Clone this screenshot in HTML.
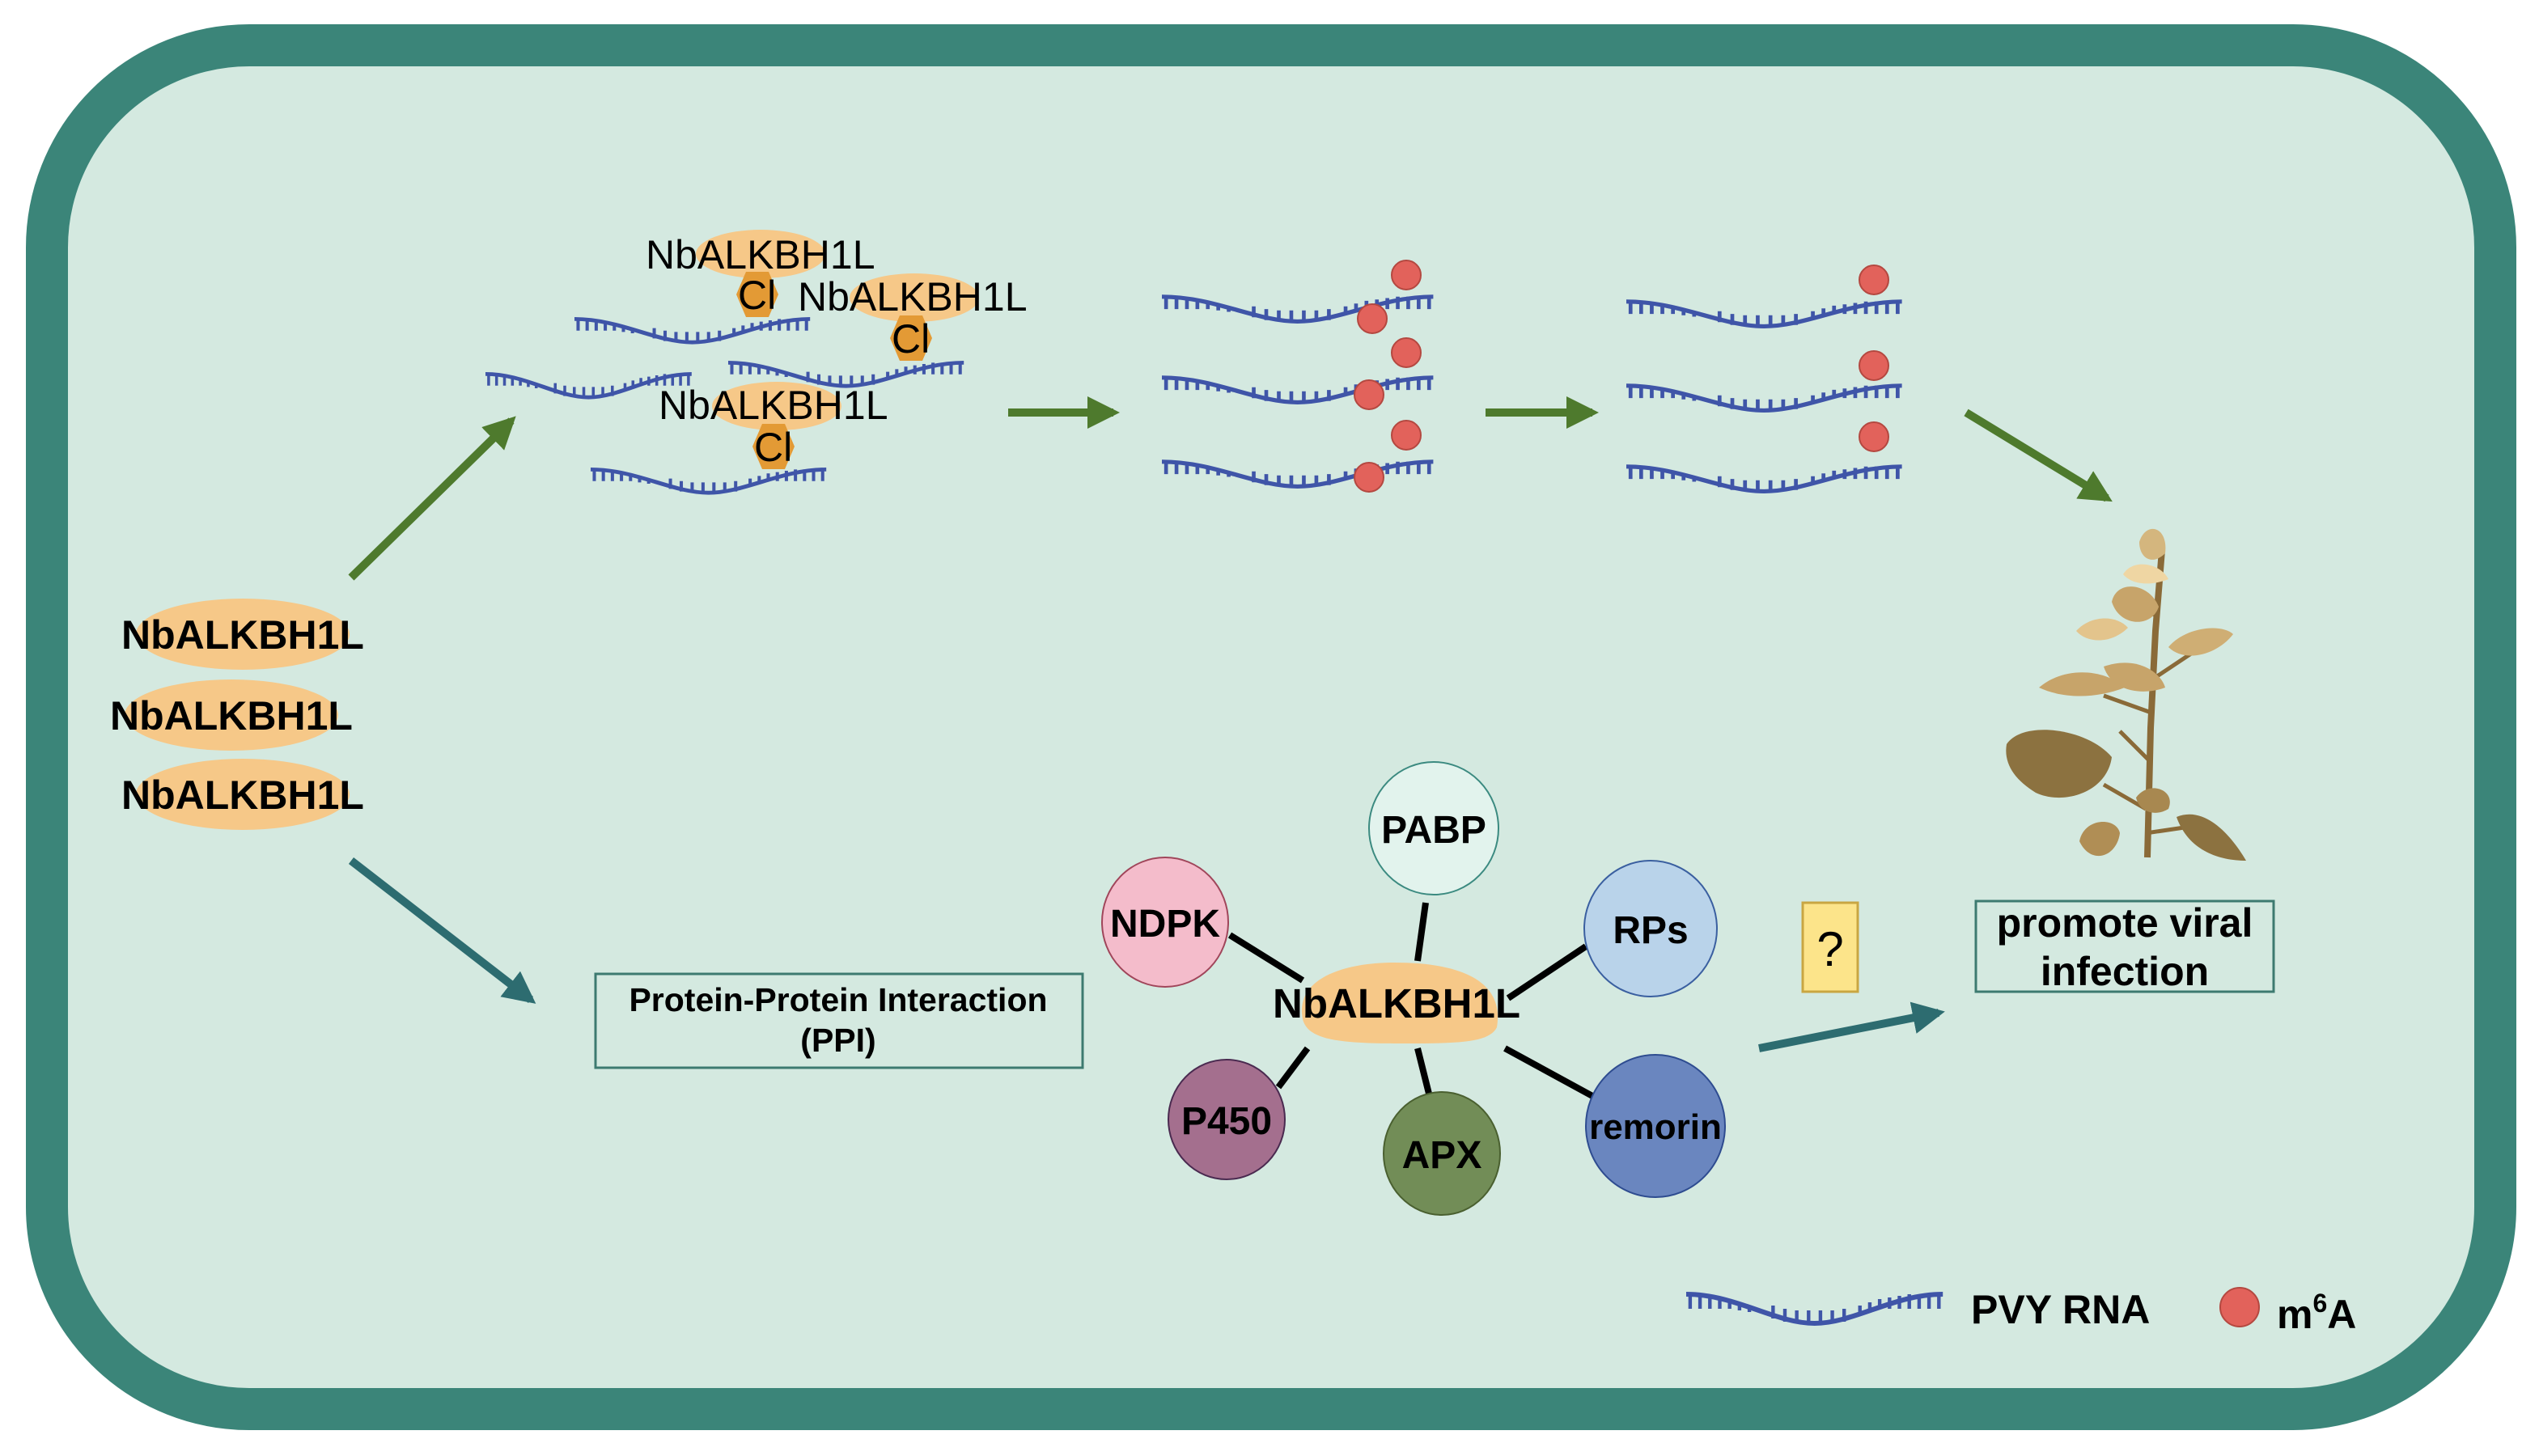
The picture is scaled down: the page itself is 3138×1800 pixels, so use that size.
<!DOCTYPE html>
<html><head><meta charset="utf-8"><style>
html,body{margin:0;padding:0;background:#fff}
svg{display:block}
text{font-family:"Liberation Sans",sans-serif}
</style></head><body>
<svg width="3138" height="1800" viewBox="0 0 1569 900" xmlns="http://www.w3.org/2000/svg">
<defs>
<g id="rna">
<path d="M0,4 C25,4 45,22 65,22 C85,22 105,4 130,4" fill="none" stroke="#3f55a8" stroke-width="3"/>
<path d="M2,4v9M7,4v9M12,5v8M17,6v7M22,7v6M27,9v5M32,11v4M88,11v4M93,9v5M98,7v6M103,6v7M108,5v8M113,4v9M118,4v9M123,4v9M128,4v9M44,19v-8M50,21v-8M56,22v-8M62,22v-8M68,22v-8M74,22v-8M80,21v-8" stroke="#3f55a8" stroke-width="1.8"/>
</g>
<marker id="ag" viewBox="0 0 10 10" refX="8" refY="5" markerWidth="4" markerHeight="4" orient="auto"><path d="M0,0L10,5L0,10z" fill="#4e7a2d"/></marker>
<marker id="at" viewBox="0 0 10 10" refX="8" refY="5" markerWidth="4" markerHeight="4" orient="auto"><path d="M0,0L10,5L0,10z" fill="#2d6c70"/></marker>
</defs>
<rect x="29" y="28" width="1513" height="843" rx="125" fill="#d4e9e0" stroke="#3b8579" stroke-width="26"/>

<!-- left stack -->
<g font-weight="bold" font-size="25" text-anchor="middle">
<ellipse cx="150" cy="392" rx="66" ry="22" fill="#f6c888"/>
<ellipse cx="143" cy="442" rx="66" ry="22" fill="#f6c888"/>
<ellipse cx="150" cy="491" rx="66" ry="22" fill="#f6c888"/>
<text x="150" y="401">NbALKBH1L</text>
<text x="143" y="451">NbALKBH1L</text>
<text x="150" y="500">NbALKBH1L</text>
</g>
<line x1="217" y1="357" x2="316" y2="260" stroke="#4e7a2d" stroke-width="5" marker-end="url(#ag)"/>
<line x1="217" y1="532" x2="328" y2="618" stroke="#2d6c70" stroke-width="5" marker-end="url(#at)"/>

<!-- top group -->
<use href="#rna" transform="translate(300,228) scale(0.98,0.8)"/>
<use href="#rna" transform="translate(355,194) scale(1.12,0.8)"/>
<use href="#rna" transform="translate(450,221) scale(1.12,0.8)"/>
<use href="#rna" transform="translate(365,287) scale(1.12,0.8)"/>
<g font-size="25">
<ellipse cx="470" cy="157" rx="40" ry="15" fill="#f6c888"/>
<ellipse cx="565" cy="184" rx="40" ry="15" fill="#f6c888"/>
<ellipse cx="480" cy="251" rx="40" ry="15" fill="#f6c888"/>
<polygon points="455,182 461,168 475,168 481,182 475,196 461,196" fill="#e39a35"/>
<polygon points="550,209 556,195 570,195 576,209 570,223 556,223" fill="#e39a35"/>
<polygon points="465,276 471,262 485,262 491,276 485,290 471,290" fill="#e39a35"/>
<text x="399" y="166">NbALKBH1L</text>
<text x="493" y="192">NbALKBH1L</text>
<text x="407" y="259">NbALKBH1L</text>
<text x="456" y="191">Cl</text>
<text x="551" y="218">Cl</text>
<text x="466" y="285">Cl</text>
</g>
<line x1="623" y1="255" x2="688" y2="255" stroke="#4e7a2d" stroke-width="5" marker-end="url(#ag)"/>
<line x1="918" y1="255" x2="984" y2="255" stroke="#4e7a2d" stroke-width="5" marker-end="url(#ag)"/>

<!-- middle strands -->
<use href="#rna" transform="translate(718,180) scale(1.29,0.85)"/>
<use href="#rna" transform="translate(718,230) scale(1.29,0.85)"/>
<use href="#rna" transform="translate(718,282) scale(1.29,0.85)"/>
<g fill="#e2625b" stroke="#b44840" stroke-width="1">
<circle cx="869" cy="170" r="9"/><circle cx="848" cy="197" r="9"/>
<circle cx="869" cy="218" r="9"/><circle cx="846" cy="244" r="9"/>
<circle cx="869" cy="269" r="9"/><circle cx="846" cy="295" r="9"/>
</g>
<use href="#rna" transform="translate(1005,183) scale(1.31,0.85)"/>
<use href="#rna" transform="translate(1005,235) scale(1.31,0.85)"/>
<use href="#rna" transform="translate(1005,285) scale(1.31,0.85)"/>
<g fill="#e2625b" stroke="#b44840" stroke-width="1">
<circle cx="1158" cy="173" r="9"/><circle cx="1158" cy="226" r="9"/><circle cx="1158" cy="270" r="9"/>
</g>
<line x1="1215" y1="255" x2="1302" y2="308" stroke="#4e7a2d" stroke-width="5" marker-end="url(#ag)"/>

<!-- plant -->
<g>
<path d="M1327,530 L1329,450 L1332,390 L1336,340" stroke="#8a6a38" stroke-width="4" fill="none"/>
<path d="M1326,500 L1300,485 M1326,515 L1360,510 M1328,470 L1310,452 M1328,440 L1300,430 M1330,420 L1360,400 M1332,380 L1310,375" stroke="#8a6a38" stroke-width="2.5" fill="none"/>
<path d="M1240,460 C1250,445 1290,450 1305,468 C1302,490 1275,498 1258,490 C1245,482 1238,472 1240,460z" fill="#8c7240"/>
<path d="M1345,505 C1362,498 1378,515 1388,532 C1370,532 1352,525 1345,505z" fill="#8c7240"/>
<path d="M1285,520 C1288,505 1308,505 1310,515 C1308,530 1292,535 1285,520z" fill="#b08e55"/>
<path d="M1320,493 C1328,482 1345,488 1340,500 C1332,505 1322,502 1320,493z" fill="#a88850"/>
<path d="M1300,412 C1320,405 1335,415 1338,425 C1325,430 1305,428 1300,412z" fill="#c7a46a"/>
<path d="M1260,425 C1275,412 1300,413 1313,425 C1295,432 1275,432 1260,425z" fill="#c7a46a"/>
<path d="M1340,400 C1350,388 1372,385 1380,392 C1370,405 1350,410 1340,400z" fill="#cfae74"/>
<path d="M1283,390 C1292,380 1308,380 1315,388 C1305,398 1290,398 1283,390z" fill="#e3c48c"/>
<path d="M1305,372 C1308,358 1328,360 1334,375 C1330,388 1310,388 1305,372z" fill="#c7a46a"/>
<path d="M1312,355 C1318,345 1335,348 1340,358 C1330,362 1318,362 1312,355z" fill="#efd6a3"/>
<path d="M1322,335 C1326,322 1340,325 1338,342 C1330,350 1322,345 1322,335z" fill="#d4b67e"/>
</g>

<!-- boxes -->
<rect x="1221" y="557" width="184" height="56" fill="none" stroke="#3d7a70" stroke-width="1.5"/>
<text x="1313" y="579" font-size="25" font-weight="bold" text-anchor="middle">promote viral</text>
<text x="1313" y="609" font-size="25" font-weight="bold" text-anchor="middle">infection</text>
<rect x="1114" y="558" width="34" height="55" fill="#fce48a" stroke="#c9a642" stroke-width="1.5"/>
<text x="1131" y="597" font-size="30" text-anchor="middle">?</text>
<line x1="1087" y1="648" x2="1198" y2="626" stroke="#2d6c70" stroke-width="5" marker-end="url(#at)"/>
<rect x="368" y="602" width="301" height="58" fill="none" stroke="#3d7a70" stroke-width="1.5"/>
<text x="518" y="625" font-size="20.5" font-weight="bold" text-anchor="middle">Protein-Protein Interaction</text>
<text x="518" y="650" font-size="20.5" font-weight="bold" text-anchor="middle">(PPI)</text>

<!-- network -->
<g stroke="#000" stroke-width="4">
<line x1="881" y1="558" x2="876" y2="594"/>
<line x1="760" y1="578" x2="805" y2="606"/>
<line x1="980" y1="585" x2="932" y2="617"/>
<line x1="790" y1="672" x2="808" y2="648"/>
<line x1="876" y1="648" x2="884" y2="680"/>
<line x1="930" y1="648" x2="985" y2="678"/>
</g>
<path d="M805,630 C800,605 830,595 862,595 C900,595 930,605 925,635 C920,645 900,645 862,645 C825,645 808,642 805,630z" fill="#f6c888"/>
<g font-weight="bold" text-anchor="middle">
<ellipse cx="886" cy="512" rx="40" ry="41" fill="#e2f3ed" stroke="#3b8a80" stroke-width="1"/>
<ellipse cx="720" cy="570" rx="39" ry="40" fill="#f4bccb" stroke="#a0455a" stroke-width="1"/>
<ellipse cx="1020" cy="574" rx="41" ry="42" fill="#b9d3ea" stroke="#3a5fa0" stroke-width="1"/>
<ellipse cx="758" cy="692" rx="36" ry="37" fill="#a46f8e" stroke="#4a2a50" stroke-width="1"/>
<ellipse cx="891" cy="713" rx="36" ry="38" fill="#728d57" stroke="#4a6030" stroke-width="1"/>
<ellipse cx="1023" cy="696" rx="43" ry="44" fill="#6a86bf" stroke="#2e4c90" stroke-width="1"/>
<text x="886" y="521" font-size="24">PABP</text>
<text x="720" y="579" font-size="24">NDPK</text>
<text x="1020" y="583" font-size="24">RPs</text>
<text x="758" y="701" font-size="24">P450</text>
<text x="891" y="722" font-size="24">APX</text>
<text x="1023" y="704" font-size="22">remorin</text>
<text x="863" y="629" font-size="25.5">NbALKBH1L</text>
</g>

<!-- legend -->
<use href="#rna" transform="translate(1042,796) scale(1.22,1)"/>
<text x="1218" y="818" font-size="25" font-weight="bold">PVY RNA</text>
<circle cx="1384" cy="808" r="12" fill="#e2625b" stroke="#b44840" stroke-width="1"/>
<text x="1407" y="821" font-size="25" font-weight="bold">m<tspan font-size="16" dy="-10">6</tspan><tspan dy="10">A</tspan></text>
</svg>
</body></html>
